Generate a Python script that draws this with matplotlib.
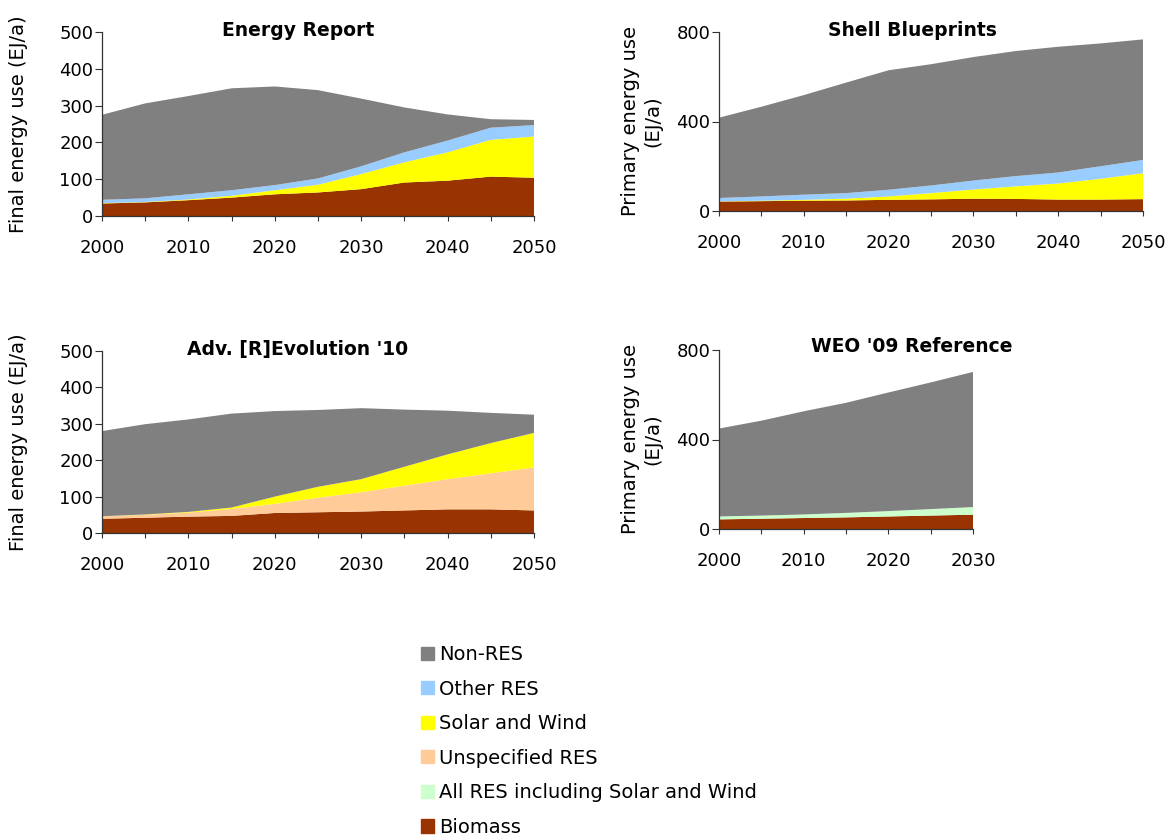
import matplotlib
matplotlib.use('Agg')
import matplotlib.pyplot as plt
from matplotlib.patches import Patch

# years on the x axis
years = [2000, 2005, 2010, 2015, 2020, 2025, 2030, 2035, 2040, 2045, 2050]
years_weo = [2000, 2005, 2010, 2015, 2020, 2025, 2030]

# Energy Report (final energy, EJ/a)
er_biomass = [34, 37, 43, 50, 59, 64, 73, 91, 96, 107, 104]
er_solar = [1, 1, 2, 5, 11, 21, 41, 55, 77, 100, 112]
er_other = [9, 10, 14, 15, 14, 17, 21, 27, 32, 33, 31]
er_nonres = [231, 258, 267, 277, 268, 240, 184, 122, 71, 23, 14]

# Shell Blueprints (primary energy, EJ/a)
sh_biomass = [42, 44, 46, 47, 50, 52, 55, 54, 51, 51, 53]
sh_solar = [1, 2, 4, 8, 15, 28, 41, 56, 72, 93, 116]
sh_other = [15, 19, 23, 25, 30, 34, 40, 46, 49, 56, 59]
sh_nonres = [359, 401, 445, 494, 534, 542, 552, 559, 562, 549, 539]

# Adv. [R]Evolution '10 (final energy, EJ/a)
adv_biomass = [39, 42, 45, 47, 55, 57, 59, 62, 65, 65, 62]
adv_unspec = [7, 8, 11, 19, 25, 40, 53, 68, 83, 99, 118]
adv_solar = [0, 1, 2, 4, 20, 30, 36, 52, 68, 83, 95]
adv_nonres = [234, 248, 254, 258, 235, 211, 195, 157, 120, 83, 50]

# WEO '09 Reference (primary energy, EJ/a)
weo_biomass = [43, 46, 49, 52, 56, 60, 64]
weo_allres = [13, 14, 16, 20, 24, 29, 34]
weo_nonres = [393, 424, 461, 492, 530, 566, 604]

colors = {
    'Non-RES': '#808080',
    'Other RES': '#99CCFF',
    'Solar and Wind': '#FFFF00',
    'Unspecified RES': '#FFCC99',
    'All RES including Solar and Wind': '#CCFFCC',
    'Biomass': '#993300',
}

plt.rcParams['font.family'] = 'DejaVu Sans'
W, H = 1175, 839
fig = plt.figure(figsize=(W / 100, H / 100), dpi=100)


def px_axes(left, top, right, bottom):
    return fig.add_axes([left / W, 1 - bottom / H, (right - left) / W, (bottom - top) / H])


def style(ax, xmax, ymax, ystep, ylabel, lab_x):
    ax.set_xlim(2000, xmax)
    ax.set_ylim(0, ymax)
    ticks = list(range(2000, xmax + 1, 5))
    ax.set_xticks(ticks)
    ax.set_xticklabels([str(t) if t % 10 == 0 else '' for t in ticks])
    ax.set_yticks(range(0, ymax + 1, ystep))
    for s in ['top', 'right']:
        ax.spines[s].set_visible(False)
    for s in ['left', 'bottom']:
        ax.spines[s].set_color('#333333')
        ax.spines[s].set_linewidth(0.9)
    ax.tick_params(axis='x', length=3.8, pad=12.5, labelsize=13, color='#333333')
    ax.tick_params(axis='y', length=5.3, pad=1, labelsize=13, color='#333333')
    ax.set_ylabel(ylabel, fontsize=14)
    ax.yaxis.set_label_coords(lab_x, 0.5)


# top left
ax1 = px_axes(102, 32, 534, 216)
ax1.stackplot(years, er_biomass, er_solar, er_other, er_nonres,
              colors=[colors['Biomass'], colors['Solar and Wind'], colors['Other RES'], colors['Non-RES']],
              linewidth=0)
style(ax1, 2050, 500, 100, 'Final energy use (EJ/a)', -0.171)

# top right
ax2 = px_axes(719, 32, 1143, 211)
ax2.stackplot(years, sh_biomass, sh_solar, sh_other, sh_nonres,
              colors=[colors['Biomass'], colors['Solar and Wind'], colors['Other RES'], colors['Non-RES']],
              linewidth=0)
style(ax2, 2050, 800, 400, 'Primary energy use\n(EJ/a)', -0.134)

# bottom left
ax3 = px_axes(102, 351, 534, 533)
ax3.stackplot(years, adv_biomass, adv_unspec, adv_solar, adv_nonres,
              colors=[colors['Biomass'], colors['Unspecified RES'], colors['Solar and Wind'], colors['Non-RES']],
              linewidth=0)
style(ax3, 2050, 500, 100, 'Final energy use (EJ/a)', -0.171)

# bottom right
ax4 = px_axes(719, 350, 973, 529)
ax4.stackplot(years_weo, weo_biomass, weo_allres, weo_nonres,
              colors=[colors['Biomass'], colors['All RES including Solar and Wind'], colors['Non-RES']],
              linewidth=0)
style(ax4, 2030, 800, 400, 'Primary energy use\n(EJ/a)', -0.224)

# titles
titles = [('Energy Report', 298, 30), ('Shell Blueprints', 912, 30),
          ("Adv. [R]Evolution '10", 298, 349), ("WEO '09 Reference", 912, 347)]
for t, x, y in titles:
    fig.text(x / W, 1 - y / H, t, ha='center', va='center', fontsize=13.5, fontweight='bold')

# legend
handles = [Patch(color=c, label=k) for k, c in colors.items()]
fig.legend(handles=handles, loc='upper left', bbox_to_anchor=(421 / W, 1 - 645 / H),
           frameon=False, fontsize=14, borderpad=0, borderaxespad=0,
           handlelength=0.67, handleheight=0.67, handletextpad=0.26, labelspacing=0.80)

fig.savefig('out.png', dpi=100)
